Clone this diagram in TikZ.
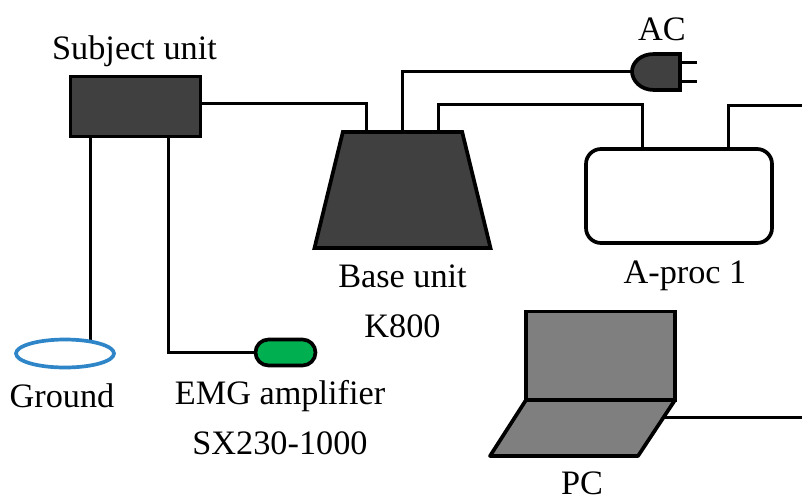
\documentclass[tikz,border=0pt]{standalone}
\usepackage{fontspec}
\setmainfont{Liberation Serif}
\usetikzlibrary{shapes.geometric,shapes.misc}
\newcommand{\lbl}{\fontsize{25.7pt}{30pt}\selectfont}
\tikzset{
  x=0.75pt,y=-0.75pt,
  wire/.style={draw=black,line width=3pt*0.75,line join=miter},
  box/.style={draw=black,line width=3.7pt*0.75,inner sep=0pt,outer sep=0pt},
  txt/.style={font=\lbl,inner sep=0pt,anchor=base,text=black},
}
\definecolor{dark}{RGB}{64,64,64}
\definecolor{midg}{RGB}{127,127,127}
\definecolor{ringb}{RGB}{46,134,200}
\definecolor{greenb}{RGB}{0,176,80}
\begin{document}
\begin{tikzpicture}
\useasboundingbox (0,0) rectangle (802,497);
% wires first
\coordinate (sjr) at (201,103);
\coordinate (bl) at (366,132);
\coordinate (bm) at (402,132);
\coordinate (br) at (438,132);
\coordinate (pl) at (631,71);
\coordinate (apl) at (642,149);
\coordinate (apr) at (728,149);
\coordinate (e1) at (802,105);
\coordinate (sj1) at (90,137);
\coordinate (sj2) at (168,137);
\coordinate (gnd) at (90,342);
\coordinate (em) at (255,352);
\coordinate (pcw) at (665,417);
\coordinate (e2) at (802,417);
\draw[wire] (sjr) -| (bl);
\draw[wire] (bm) |- (pl);
\draw[wire] (br) -- (438,104) -| (apl);
\draw[wire] (apr) |- (e1);
\draw[wire] (sj1) -- (gnd);
\draw[wire] (sj2) |- (em);
\draw[wire] (pcw) -- (e2);
% nodes
\node[box,fill=dark,minimum width=130*0.75pt,minimum height=60*0.75pt] (subject) at (135.5,106.5) {};
\node[box,fill=dark,trapezium,trapezium stretches=true,trapezium left angle=75.5,trapezium right angle=75.5,minimum width=176*0.75pt,minimum height=116*0.75pt] (base) at (402.5,190) {\phantom{x}};
\node[box,fill=white,rounded corners=15*0.75pt,minimum width=186*0.75pt,minimum height=94*0.75pt] (aproc) at (679,196) {};
\node[draw=ringb,line width=3.7pt*0.75,ellipse,inner sep=0pt,minimum width=98*0.75pt,minimum height=28*0.75pt] (ground) at (65,353.5) {};
\node[box,fill=greenb,rounded rectangle,minimum width=60*0.75pt,minimum height=26*0.75pt] (emg) at (285.5,352.5) {};
% plug
\draw[box,fill=dark] (680,54) -- (680,90) -- (654,90) .. controls (640,90) and (632,80) .. (632,71.5) .. controls (632,63) and (640,54) .. (654,54) -- cycle;
\draw[wire] (680,62.5) -- (697,62.5) (680,81) -- (697,81);
% laptop
\draw[box,fill=midg] (526,311.5) rectangle (675,400);
\draw[box,fill=midg,line join=round] (526,400) -- (675,400) -- (638,456) -- (490,456) -- cycle;
% labels
\node[txt] (tsub) at (134.5,59) {Subject unit};
\node[txt] (tac) at (662,40) {AC};
\node[txt] (tbase) at (402.5,287) {Base unit};
\node[txt] (tk) at (402.5,337) {K800};
\node[txt] (tap) at (685,283) {A-proc 1};
\node[txt] (tgr) at (62,407) {Ground};
\node[txt] (tem) at (280,404) {EMG amplifier};
\node[txt] (tsx) at (280,454) {SX230-1000};
\node[txt] (tpc) at (582,494) {PC};
\end{tikzpicture}
\end{document}
